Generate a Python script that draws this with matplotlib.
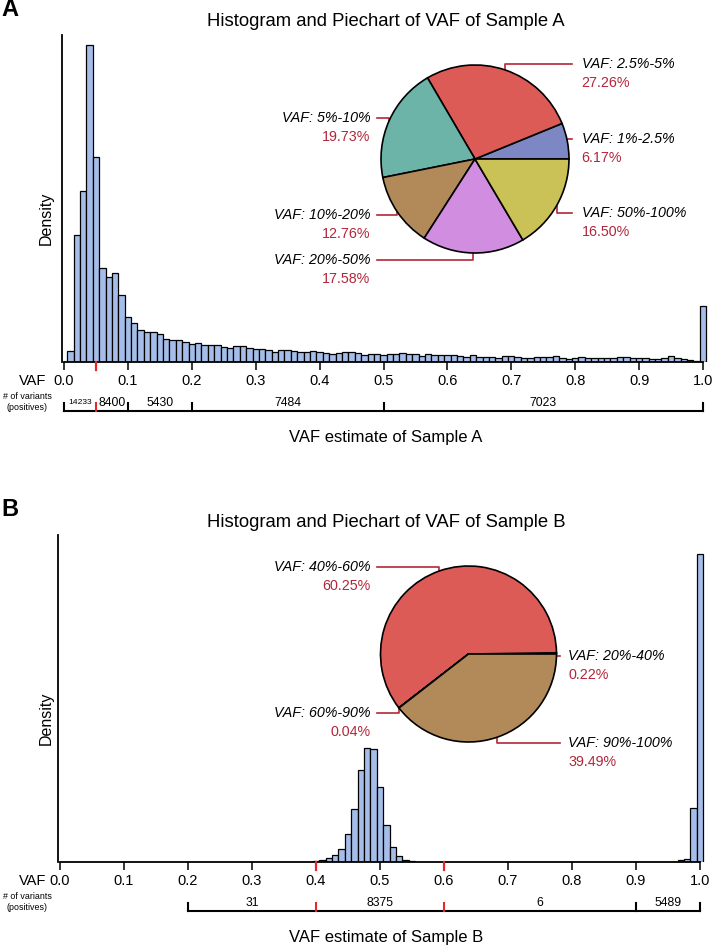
import matplotlib
matplotlib.use("Agg")
import matplotlib.pyplot as plt
import numpy as np

plt.rcParams['font.family'] = ['Liberation Sans', 'DejaVu Sans']

W, H = 712, 946

# ---- values ----
bin_centers = np.round(np.arange(1, 101) * 0.01, 2)   # 0.01-wide bins, 0.01 .. 1.00

dens_a = [11, 127, 171, 317, 205, 94, 85, 89, 67, 45,
          39, 32, 30, 30, 28, 23, 22, 22, 20, 18,
          19, 17, 17, 17, 15, 14, 16, 16, 14, 13,
          13, 12, 10, 12, 12, 11, 10, 10, 11, 10,
          9, 8, 9, 10, 10, 9, 7, 8, 8, 7,
          8, 8, 9, 8, 8, 6, 8, 7, 7, 7,
          7, 6, 5, 7, 5, 5, 5, 4, 6, 6,
          5, 4, 4, 5, 5, 5, 6, 4, 3, 4,
          5, 4, 4, 4, 4, 4, 5, 5, 4, 4,
          4, 3, 3, 4, 6, 4, 3, 2, 1, 56]

dens_b = [0, 0, 0, 0, 0, 0, 0, 0, 0, 0,
          0, 0, 0, 0, 0, 0, 0, 0, 0, 0,
          0.3, 0.3, 0.3, 0.3, 0.3, 0.3, 0.3, 0.3, 0.3, 0.3,
          0.3, 0.3, 0.3, 0.3, 0.3, 0.3, 0.5, 0.5, 0.5, 1,
          2, 4, 7, 13, 28, 53, 92, 114, 113, 75,
          37, 15, 6, 2, 1, 0.5, 0, 0, 0, 0,
          0, 0, 0, 0, 0, 0, 0, 0, 0, 0,
          0, 0, 0, 0, 0, 0, 0, 0, 0, 0,
          0, 0, 0, 0, 0, 0, 0, 0, 0, 0,
          0, 0, 0, 0, 0, 0.5, 2, 3, 54, 308]

pie_a_labels = ["VAF: 1%-2.5%", "VAF: 2.5%-5%", "VAF: 5%-10%",
                "VAF: 10%-20%", "VAF: 20%-50%", "VAF: 50%-100%"]
pie_a_pct = [6.17, 27.26, 19.73, 12.76, 17.58, 16.50]

pie_b_labels = ["VAF: 20%-40%", "VAF: 40%-60%", "VAF: 60%-90%", "VAF: 90%-100%"]
pie_b_pct = [0.22, 60.25, 0.04, 39.49]

bracket_a_edges = [0.0, 0.05, 0.1, 0.2, 0.5, 1.0]
bracket_a_counts = [14233, 8400, 5430, 7484, 7023]
bracket_b_edges = [0.2, 0.4, 0.6, 0.9, 1.0]
bracket_b_counts = [31, 8375, 6, 5489]
red_a = [0.05]
red_b = [0.4, 0.6]

# ---- styles ----
bar_col = "#a5bde8"
pie_cols = ["#7d87c3", "#dd5b56", "#6db4a8", "#b28a59", "#d18de0", "#cbc257"]
pct_col = "#b3263a"
tick_red = "#e8262a"


def px_rect(x0, y0, x1, y1):
    return [x0 / W, 1 - y1 / H, (x1 - x0) / W, (y1 - y0) / H]


fig = plt.figure(figsize=(W / 100, H / 100), dpi=100)


def draw_hist(letter, dy, x0px, x1px, dens, red, edges, counts, count_fs):
    scale = x1px - x0px
    xlim = (-2 / scale, (710 - x0px) / scale)
    ax = fig.add_axes(px_rect(x0px - 2, 35 + dy, 710, 362 + dy))
    ax.bar(bin_centers, dens, width=0.01, color=bar_col, edgecolor='black', linewidth=0.9)
    ax.set_xlim(*xlim)
    ax.set_ylim(0, 327)
    for s in ['top', 'right']:
        ax.spines[s].set_visible(False)
    for s in ['left', 'bottom']:
        ax.spines[s].set_linewidth(1.3)
    ax.spines['bottom'].set_bounds(0, 1)
    ax.set_yticks([])
    ticks = np.round(np.arange(0, 1.01, 0.1), 1)
    ax.set_xticks(ticks)
    ax.set_xticklabels(["%.1f" % t for t in ticks], fontsize=10.5)
    ax.tick_params(axis='x', length=5.8, width=1.1, pad=2.5)
    for r in red:
        ax.plot([r, r], [0, -8 / 327], transform=ax.get_xaxis_transform(),
                color=tick_red, lw=1.6, clip_on=False, zorder=5)

    # bracket with variant counts
    bx = fig.add_axes(px_rect(x0px - 2, 390 + dy, 710, 416 + dy))
    bx.set_xlim(*xlim)
    bx.set_ylim(416 + dy, 390 + dy)
    bx.axis('off')
    bx.plot([edges[0], edges[-1]], [411 + dy] * 2, color='black', lw=1.5,
            solid_capstyle='projecting')
    for e in edges:
        c = tick_red if e in red else 'black'
        bx.plot([e, e], [403 + dy, 411 + dy], color=c, lw=1.5, zorder=3)
    for a, b, n, fs in zip(edges[:-1], edges[1:], counts, count_fs):
        bx.text((a + b) / 2, 403 + dy, str(n), ha='center', va='center', fontsize=fs)

    fig.text(46 / W, 1 - (381 + dy) / H, "VAF", ha='right', va='center', fontsize=10.5)
    fig.text(27 / W, 1 - (402 + dy) / H, "# of variants\n(positives)", ha='center',
             va='center', fontsize=6.4, linespacing=1.15)
    fig.text(46 / W, 1 - (218 + dy) / H, "Density", rotation=90, ha='center',
             va='center', fontsize=11.5)
    fig.text(386 / W, 1 - (22 + dy) / H, "Histogram and Piechart of VAF of Sample " + letter,
             ha='center', va='center', fontsize=13.3)
    fig.text(386 / W, 1 - (437 + dy) / H, "VAF estimate of Sample " + letter,
             ha='center', va='center', fontsize=12)
    fig.text(1 / W, 1 - (10 + dy) / H, letter, ha='left', va='center',
             fontsize=17, fontweight='bold')


def draw_pie(cx, cy, r, vals, labels, sides, ys):
    pa = fig.add_axes(px_rect(cx - r, cy - r, cx + r, cy + r))
    pa.pie(vals, colors=pie_cols[:len(vals)], startangle=0, counterclock=True,
           wedgeprops=dict(edgecolor='black', linewidth=1.2))
    pa.set_xlim(-1, 1)
    pa.set_ylim(-1, 1)
    pa.set_aspect('equal')
    pa.axis('off')
    vals = np.array(vals)
    mids = np.deg2rad((np.cumsum(vals) - vals / 2) / vals.sum() * 360)
    for m, lab, v, side, yt in zip(mids, labels, vals, sides, ys):
        ex, ey = np.cos(m), np.sin(m)
        right = side == 'R'
        xe = 1.035 if right else -1.04
        pa.plot([ex, ex, xe], [ey, yt, yt], color=pct_col, lw=1.2, clip_on=False, zorder=0)
        tx = 1.135 if right else -1.115
        ha = 'left' if right else 'right'
        pa.text(tx, yt, lab, style='italic', fontsize=10.3, ha=ha, va='center')
        pa.text(tx, yt - 19 / r, "%.2f%%" % v, color=pct_col, fontsize=10.3, ha=ha, va='center')


draw_hist("A", 0, 64, 703, dens_a, red_a, bracket_a_edges, bracket_a_counts,
          [6.1, 8.7, 8.7, 8.7, 8.7])
draw_hist("B", 500, 60, 700, dens_b, red_b, bracket_b_edges, bracket_b_counts,
          [8.7, 8.7, 8.7, 8.7])

draw_pie(475, 159, 94, pie_a_pct, pie_a_labels, ['R', 'R', 'L', 'L', 'L', 'R'],
         [0.21, 1.01, 0.44, -0.60, -1.07, -0.57])
draw_pie(468.5, 654, 88, pie_b_pct, pie_b_labels, ['R', 'L', 'L', 'R'],
         [-0.02, 0.99, -0.67, -1.01])

fig.savefig("out.png", dpi=100)
